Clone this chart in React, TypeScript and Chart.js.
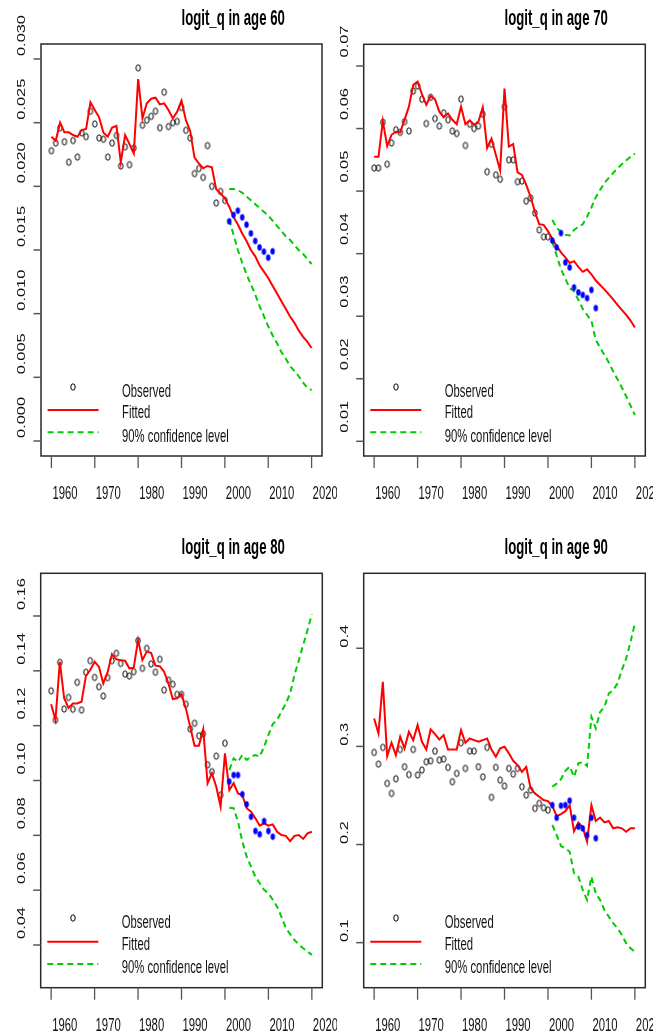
import { useEffect, useRef } from 'react';
import { Chart, registerables } from 'chart.js';

Chart.register(...registerables);

// ---------- categories / years ----------
const obsYears = [1960, 1961, 1962, 1963, 1964, 1965, 1966, 1967, 1968, 1969, 1970, 1971, 1972, 1973, 1974, 1975, 1976, 1977, 1978, 1979, 1980, 1981, 1982, 1983, 1984, 1985, 1986, 1987, 1988, 1989, 1990, 1991, 1992, 1993, 1994, 1995, 1996, 1997, 1998, 1999, 2000];
const heldYears = [2001, 2002, 2003, 2004, 2005, 2006, 2007, 2008, 2009, 2010, 2011];
const fitYears = [1960, 1961, 1962, 1963, 1964, 1965, 1966, 1967, 1968, 1969, 1970, 1971, 1972, 1973, 1974, 1975, 1976, 1977, 1978, 1979, 1980, 1981, 1982, 1983, 1984, 1985, 1986, 1987, 1988, 1989, 1990, 1991, 1992, 1993, 1994, 1995, 1996, 1997, 1998, 1999, 2000, 2001, 2002, 2003, 2004, 2005, 2006, 2007, 2008, 2009, 2010, 2011, 2012, 2013, 2014, 2015, 2016, 2017, 2018, 2019, 2020];
const ciYears = [2001, 2002, 2003, 2004, 2005, 2006, 2007, 2008, 2009, 2010, 2011, 2012, 2013, 2014, 2015, 2016, 2017, 2018, 2019, 2020];

const xTickValues = [1960, 1970, 1980, 1990, 2000, 2010, 2020];
const xTickLabels = ['1960', '1970', '1980', '1990', '2000', '2010', '2020'];
const legendLabels = ['Observed', 'Fitted', '90% confidence level'];

// ---------- age 60 ----------
const obs60 = [0.0228, 0.0234, 0.0246, 0.0235, 0.0219, 0.0236, 0.0223, 0.0242, 0.0239, 0.0259, 0.0249, 0.0238, 0.0237, 0.0223, 0.0234, 0.0240, 0.0216, 0.0231, 0.0217, 0.0230, 0.0293, 0.0248, 0.0252, 0.0255, 0.0259, 0.0246, 0.0274, 0.0247, 0.0250, 0.0251, 0.0262, 0.0244, 0.0238, 0.0210, 0.0214, 0.0207, 0.0232, 0.0200, 0.0187, 0.0196, 0.0189];
const held60 = [0.01725, 0.01775, 0.01809, 0.01757, 0.01699, 0.01631, 0.01571, 0.01521, 0.01487, 0.01440, 0.01490];
const fit60 = [0.02390, 0.02358, 0.02500, 0.02424, 0.02424, 0.02403, 0.02390, 0.02442, 0.02450, 0.02660,
  0.02600, 0.02542, 0.02421, 0.02390, 0.02461, 0.02474, 0.02189, 0.02403, 0.02332, 0.02259,
  0.02843, 0.02534, 0.02652, 0.02688, 0.02696, 0.02644, 0.02652, 0.02600, 0.02534, 0.02586,
  0.02673, 0.02521, 0.02435, 0.02225, 0.02181, 0.02142, 0.02160, 0.02149, 0.01977, 0.01945,
  0.01906, 0.01840, 0.01760, 0.01700, 0.01630, 0.01570, 0.01500, 0.01450, 0.01380, 0.01330,
  0.01280, 0.01220, 0.01160, 0.01100, 0.01040, 0.00980, 0.00930, 0.00870, 0.00820, 0.00780, 0.00730];
const upper60 = [0.0198, 0.0198, 0.0197, 0.0195, 0.0192, 0.0189, 0.0186, 0.0183, 0.0180, 0.0177, 0.0173, 0.0169, 0.0165, 0.0161, 0.0158, 0.0154, 0.0150, 0.0147, 0.0143, 0.0139];
const lower60 = [0.0174, 0.0162, 0.0150, 0.0140, 0.0131, 0.0123, 0.0115, 0.0106, 0.0098, 0.0090, 0.0083, 0.0077, 0.0070, 0.0065, 0.0059, 0.0055, 0.0051, 0.0046, 0.0042, 0.0040];
const yTicks60 = [0, 0.005, 0.01, 0.015, 0.02, 0.025, 0.03];
const yLabels60 = ['0.000', '0.005', '0.010', '0.015', '0.020', '0.025', '0.030'];

// ---------- age 70 ----------
const obs70 = [0.0537, 0.0537, 0.0610, 0.0543, 0.0577, 0.0598, 0.0594, 0.0611, 0.0596, 0.0660,
  0.0668, 0.0647, 0.0608, 0.0650, 0.0616, 0.0604, 0.0625, 0.0614, 0.0596, 0.0592,
  0.0647, 0.0573, 0.0607, 0.0600, 0.0604, 0.0623, 0.0531, 0.0575, 0.0526, 0.0519,
  0.0635, 0.0550, 0.0550, 0.0515, 0.0516, 0.0484, 0.0489, 0.0465, 0.0438, 0.0427, 0.0427];
const held70 = [0.0421, 0.0410, 0.0433, 0.0386, 0.0378, 0.0346, 0.0338, 0.0334, 0.0329, 0.0342, 0.0313];
const fit70 = [0.0555, 0.0555, 0.0612, 0.0572, 0.0590, 0.0595, 0.0594, 0.0614, 0.0635, 0.0670,
  0.0675, 0.0655, 0.0638, 0.0652, 0.0647, 0.0627, 0.0618, 0.0624, 0.0614, 0.0607,
  0.0635, 0.0607, 0.0613, 0.0606, 0.0611, 0.0634, 0.0569, 0.0584, 0.0558, 0.0533,
  0.0664, 0.0571, 0.0575, 0.0530, 0.0526, 0.0510, 0.0491, 0.0467, 0.0447, 0.0446,
  0.0436, 0.0424, 0.0412, 0.0402, 0.0394, 0.0385, 0.0388, 0.0379, 0.0371, 0.0375,
  0.0367, 0.0357, 0.0350, 0.0343, 0.0335, 0.0327, 0.0318, 0.0310, 0.0302, 0.0293, 0.0282];
const upper70 = [0.0454, 0.0441, 0.0435, 0.0430, 0.0429, 0.0438, 0.0443, 0.0447, 0.0459, 0.0474, 0.0490, 0.0502, 0.0513, 0.0521, 0.0529, 0.0536, 0.0543, 0.0549, 0.0555, 0.0560];
const lower70 = [0.0419, 0.0397, 0.0375, 0.0360, 0.0345, 0.0340, 0.0326, 0.0312, 0.0302, 0.0293, 0.0262, 0.0250, 0.0238, 0.0226, 0.0212, 0.0199, 0.0186, 0.0172, 0.0157, 0.0142];
const yTicks70 = [0.01, 0.02, 0.03, 0.04, 0.05, 0.06, 0.07];
const yLabels70 = ['0.01', '0.02', '0.03', '0.04', '0.05', '0.06', '0.07'];

// ---------- age 80 ----------
const obs80 = [0.1327, 0.1221, 0.1431, 0.1261, 0.1303, 0.1260, 0.1358, 0.1257, 0.1395, 0.1437,
  0.1376, 0.1342, 0.1308, 0.1375, 0.1437, 0.1464, 0.1427, 0.1388, 0.1381, 0.1397,
  0.1510, 0.1409, 0.1482, 0.1425, 0.1395, 0.1442, 0.1330, 0.1366, 0.1351, 0.1314,
  0.1314, 0.1278, 0.1188, 0.1209, 0.1163, 0.1170, 0.1057, 0.1032, 0.1089, 0.0947, 0.1136];
const held80 = [0.0996, 0.1020, 0.1020, 0.0950, 0.0913, 0.0868, 0.0816, 0.0804, 0.0852, 0.0816, 0.0795];
const fit80 = [0.1278, 0.1221, 0.1433, 0.1300, 0.1265, 0.1281, 0.1281, 0.1287, 0.1381, 0.1403,
  0.1433, 0.1415, 0.1354, 0.1395, 0.1461, 0.1442, 0.1439, 0.1437, 0.1409, 0.1411,
  0.1512, 0.1439, 0.1470, 0.1466, 0.1419, 0.1417, 0.1397, 0.1354, 0.1297, 0.1300,
  0.1315, 0.1263, 0.1196, 0.1127, 0.1127, 0.1187, 0.0990, 0.1026, 0.0977, 0.0904,
  0.1099, 0.0965, 0.0990, 0.0953, 0.0947, 0.0899, 0.0886, 0.0862, 0.0835, 0.0844,
  0.0835, 0.0840, 0.0813, 0.0801, 0.0798, 0.0779, 0.0798, 0.0801, 0.0787, 0.0807, 0.0813];
const upper80 = [0.1038, 0.1081, 0.1068, 0.1093, 0.1075, 0.1087, 0.1093, 0.1087, 0.1123, 0.1166, 0.1206, 0.1221, 0.1251, 0.1281, 0.1318, 0.1385, 0.1439, 0.1494, 0.1549, 0.1606];
const lower80 = [0.0901, 0.0899, 0.0850, 0.0777, 0.0722, 0.0686, 0.0649, 0.0625, 0.0601, 0.0589, 0.0565, 0.0540, 0.0503, 0.0462, 0.0440, 0.0418, 0.0402, 0.0388, 0.0376, 0.0364];
const yTicks80 = [0.04, 0.06, 0.08, 0.1, 0.12, 0.14, 0.16];
const yLabels80 = ['0.04', '0.06', '0.08', '0.10', '0.12', '0.14', '0.16'];

// ---------- age 90 ----------
const obs90 = [0.2939, 0.2820, 0.2990, 0.2623, 0.2521, 0.2670, 0.2969, 0.2792, 0.2713, 0.2969,
  0.2708, 0.2759, 0.2843, 0.2853, 0.2952, 0.2861, 0.2871, 0.2786, 0.2640, 0.2725,
  0.3037, 0.2776, 0.2952, 0.2952, 0.2792, 0.2690, 0.2990, 0.2481, 0.2786, 0.2657,
  0.2596, 0.2776, 0.2718, 0.2776, 0.2589, 0.2504, 0.2555, 0.2369, 0.2420, 0.2375, 0.2351];
const held90 = [0.2402, 0.2273, 0.2396, 0.2402, 0.2447, 0.2273, 0.2182, 0.2165, 0.2097, 0.2273, 0.2064];
const fit90 = [0.3285, 0.3132, 0.3658, 0.2901, 0.3037, 0.2911, 0.3098, 0.2980, 0.3149, 0.3064,
  0.3217, 0.3047, 0.2969, 0.3173, 0.3125, 0.3071, 0.3115, 0.2969, 0.2969, 0.2969,
  0.3166, 0.3037, 0.3081, 0.3064, 0.3047, 0.3064, 0.3081, 0.2969, 0.2894, 0.2980,
  0.2996, 0.2929, 0.2853, 0.2810, 0.2741, 0.2790, 0.2575, 0.2521, 0.2487, 0.2453,
  0.2443, 0.2395, 0.2290, 0.2310, 0.2340, 0.2400, 0.2135, 0.2225, 0.2175, 0.2030,
  0.2400, 0.2240, 0.2275, 0.2225, 0.2240, 0.2165, 0.2175, 0.2165, 0.2130, 0.2165, 0.2165];
const upper90 = [0.2589, 0.2620, 0.2665, 0.2750, 0.2795, 0.2690, 0.2827, 0.2840, 0.2800, 0.3301, 0.3183, 0.3352, 0.3403, 0.3540, 0.3573, 0.3641, 0.3777, 0.3896, 0.4065, 0.4252];
const lower90 = [0.2199, 0.2097, 0.1985, 0.1961, 0.1927, 0.1707, 0.1672, 0.1537, 0.1435, 0.1672, 0.1503, 0.1435, 0.1333, 0.1265, 0.1198, 0.1147, 0.1078, 0.0994, 0.0943, 0.0908];
const yTicks90 = [0.1, 0.2, 0.3, 0.4];
const yLabels90 = ['0.1', '0.2', '0.3', '0.4'];

// ---------- panels ----------
type Panel = {
  title: string;
  obs: number[]; held: number[]; fit: number[]; upper: number[]; lower: number[];
  yTicks: number[]; yLabels: string[];
  yMin: number; yMax: number;
  left: number; top: number; width: number; height: number;
  pad: { left: number; right: number; top: number; bottom: number };
  yLabelLift: number;
};

const panels: Panel[] = [
  { title: 'logit_q in age 60', obs: obs60, held: held60, fit: fit60, upper: upper60, lower: lower60,
    yTicks: yTicks60, yLabels: yLabels60, yMin: -0.00118, yMax: 0.03118,
    left: 0, top: 0, width: 337, height: 517, pad: { left: 41, right: 15, top: 44, bottom: 61 }, yLabelLift: 23.5 },
  { title: 'logit_q in age 70', obs: obs70, held: held70, fit: fit70, upper: upper70, lower: lower70,
    yTicks: yTicks70, yLabels: yLabels70, yMin: 0.00765, yMax: 0.07347,
    left: 337, top: 0, width: 316, height: 517, pad: { left: 26.7, right: 7.7, top: 44.3, bottom: 61 }, yLabelLift: 24.5 },
  { title: 'logit_q in age 80', obs: obs80, held: held80, fit: fit80, upper: upper80, lower: lower80,
    yTicks: yTicks80, yLabels: yLabels80, yMin: 0.02443, yMax: 0.17557,
    left: 0, top: 517, width: 337, height: 517, pad: { left: 40.7, right: 14.7, top: 56.3, bottom: 46.3 }, yLabelLift: 22 },
  { title: 'logit_q in age 90', obs: obs90, held: held90, fit: fit90, upper: upper90, lower: lower90,
    yTicks: yTicks90, yLabels: yLabels90, yMin: 0.0541, yMax: 0.4764,
    left: 337, top: 517, width: 316, height: 517, pad: { left: 26.7, right: 7.7, top: 56.3, bottom: 46.3 }, yLabelLift: 12 },
];

const X_MIN = 1957.6;
const X_MAX = 2022.4;
const RED = '#ff0000';
const GREEN = '#00cd00';
const BLUE = '#0000ff';
const FONT_FAMILY = '"Liberation Sans", Arial, sans-serif';
const STRETCH = 1.65;

function ellipseImage(rx: number, ry: number, fill: string | null, stroke: string | null, lw: number) {
  const c = document.createElement('canvas');
  c.width = Math.ceil(rx * 2 + lw + 2);
  c.height = Math.ceil(ry * 2 + lw + 2);
  const g = c.getContext('2d')!;
  g.beginPath();
  g.ellipse(c.width / 2, c.height / 2, rx, ry, 0, 0, Math.PI * 2);
  if (fill) { g.fillStyle = fill; g.fill(); }
  if (stroke) { g.strokeStyle = stroke; g.lineWidth = lw; g.stroke(); }
  return c;
}

function stretchedText(ctx: CanvasRenderingContext2D, text: string, x: number, y: number, font: string, sy: number) {
  ctx.save();
  ctx.translate(x, y);
  ctx.scale(1, sy);
  ctx.font = font;
  ctx.textAlign = 'left';
  ctx.textBaseline = 'alphabetic';
  ctx.fillText(text, 0, 0);
  ctx.restore();
}

function makeDecor(p: Panel, hollow: HTMLCanvasElement) {
  return {
    id: 'rDecor',
    afterDraw(chart: any) {
      const ctx: CanvasRenderingContext2D = chart.ctx;
      const a = chart.chartArea;
      const xs = chart.scales.x;
      const ys = chart.scales.y;
      ctx.save();
      // box
      ctx.strokeStyle = '#2a2a2a';
      ctx.lineWidth = 1.5;
      ctx.strokeRect(a.left, a.top, a.right - a.left, a.bottom - a.top);
      // x ticks
      ctx.strokeStyle = '#555';
      ctx.lineWidth = 1.3;
      xTickValues.forEach((v) => {
        const x = xs.getPixelForValue(v);
        ctx.beginPath(); ctx.moveTo(x, a.bottom); ctx.lineTo(x, a.bottom + 12); ctx.stroke();
      });
      // y ticks
      ctx.lineWidth = 1.5;
      p.yTicks.forEach((v) => {
        const y = ys.getPixelForValue(v);
        ctx.beginPath(); ctx.moveTo(a.left - 7.5, y); ctx.lineTo(a.left, y); ctx.stroke();
      });
      ctx.fillStyle = '#111';
      // x labels
      xTickLabels.forEach((t, i) => {
        const x = xs.getPixelForValue(xTickValues[i]);
        stretchedText(ctx, t, x + 1, a.bottom + 43, `11.3px ${FONT_FAMILY}`, STRETCH);
      });
      // y labels (rotated)
      p.yLabels.forEach((t, i) => {
        const y = ys.getPixelForValue(p.yTicks[i]);
        ctx.save();
        ctx.translate(a.left - 16, y - p.yLabelLift);
        ctx.rotate(-Math.PI / 2);
        ctx.scale(1.45, 1);
        ctx.font = `11.3px ${FONT_FAMILY}`;
        ctx.textAlign = 'center';
        ctx.textBaseline = 'alphabetic';
        ctx.fillText(t, 0, 0);
        ctx.restore();
      });
      // title
      ctx.fillStyle = '#000';
      stretchedText(ctx, p.title, (a.left + a.right) / 2, a.top - 19, `bold 13.2px ${FONT_FAMILY}`, STRETCH);
      // legend
      const bx = a.left;
      const by = a.bottom;
      ctx.drawImage(hollow, Math.round(bx + 31.8 - hollow.width / 2), Math.round(by - 69.3 - hollow.height / 2));
      ctx.lineWidth = 2;
      ctx.strokeStyle = RED;
      ctx.beginPath(); ctx.moveTo(bx + 6.6, by - 46); ctx.lineTo(bx + 57.6, by - 46); ctx.stroke();
      ctx.strokeStyle = GREEN;
      ctx.setLineDash([6, 4]);
      ctx.beginPath(); ctx.moveTo(bx + 6.6, by - 23.7); ctx.lineTo(bx + 57.6, by - 23.7); ctx.stroke();
      ctx.setLineDash([]);
      ctx.fillStyle = '#111';
      const lf = `11.3px ${FONT_FAMILY}`;
      stretchedText(ctx, legendLabels[0], bx + 81, by - 59.5, lf, STRETCH);
      stretchedText(ctx, legendLabels[1], bx + 81, by - 37.7, lf, STRETCH);
      stretchedText(ctx, legendLabels[2], bx + 81, by - 14.3, lf, STRETCH);
      ctx.restore();
    },
  };
}

function pairs(xs: number[], ys: number[]) {
  return xs.map((x, i) => ({ x, y: ys[i] }));
}

function PanelChart({ p }: { p: Panel }) {
  const ref = useRef<HTMLCanvasElement>(null);
  useEffect(() => {
    const canvas = ref.current;
    if (!canvas) return;
    const hollow = ellipseImage(2.2, 3.2, null, '#000', 1.0);
    const dot = ellipseImage(2.2, 3.2, BLUE, null, 0);
    const chart = new Chart(canvas, {
      type: 'line',
      data: {
        datasets: [
          { label: 'held', data: pairs(heldYears, p.held), showLine: false, pointStyle: dot as any, pointRadius: 3, borderColor: BLUE, backgroundColor: BLUE },
          { label: legendLabels[1], data: pairs(fitYears, p.fit), borderColor: RED, borderWidth: 2, pointRadius: 0, tension: 0, fill: false },
          { label: 'upper', data: pairs(ciYears, p.upper), borderColor: GREEN, borderWidth: 2, borderDash: [6, 4], pointRadius: 0, tension: 0, fill: false },
          { label: 'lower', data: pairs(ciYears, p.lower), borderColor: GREEN, borderWidth: 2, borderDash: [6, 4], pointRadius: 0, tension: 0, fill: false },
          { label: legendLabels[0], data: pairs(obsYears, p.obs), showLine: false, pointStyle: hollow as any, pointRadius: 3, borderColor: '#000', backgroundColor: 'transparent' },
        ],
      },
      options: {
        animation: false,
        responsive: false,
        devicePixelRatio: 1,
        events: [],
        layout: { autoPadding: false, padding: p.pad },
        scales: {
          x: { type: 'linear', min: X_MIN, max: X_MAX, display: false },
          y: { type: 'linear', min: p.yMin, max: p.yMax, display: false },
        },
        plugins: {
          legend: { display: false },
          tooltip: { enabled: false },
          title: { display: false },
        },
      },
      plugins: [makeDecor(p, hollow)],
    } as any);
    return () => chart.destroy();
  }, [p]);
  return (
    <canvas
      ref={ref}
      width={p.width}
      height={p.height}
      style={{ position: 'absolute', left: p.left, top: p.top, width: p.width, height: p.height }}
    />
  );
}

export default function App() {
  return (
    <div style={{ position: 'absolute', left: 0, top: 0, width: 667, height: 1034, background: '#fff', overflow: 'hidden' }}>
      {panels.map((p) => (
        <PanelChart key={p.title} p={p} />
      ))}
    </div>
  );
}
